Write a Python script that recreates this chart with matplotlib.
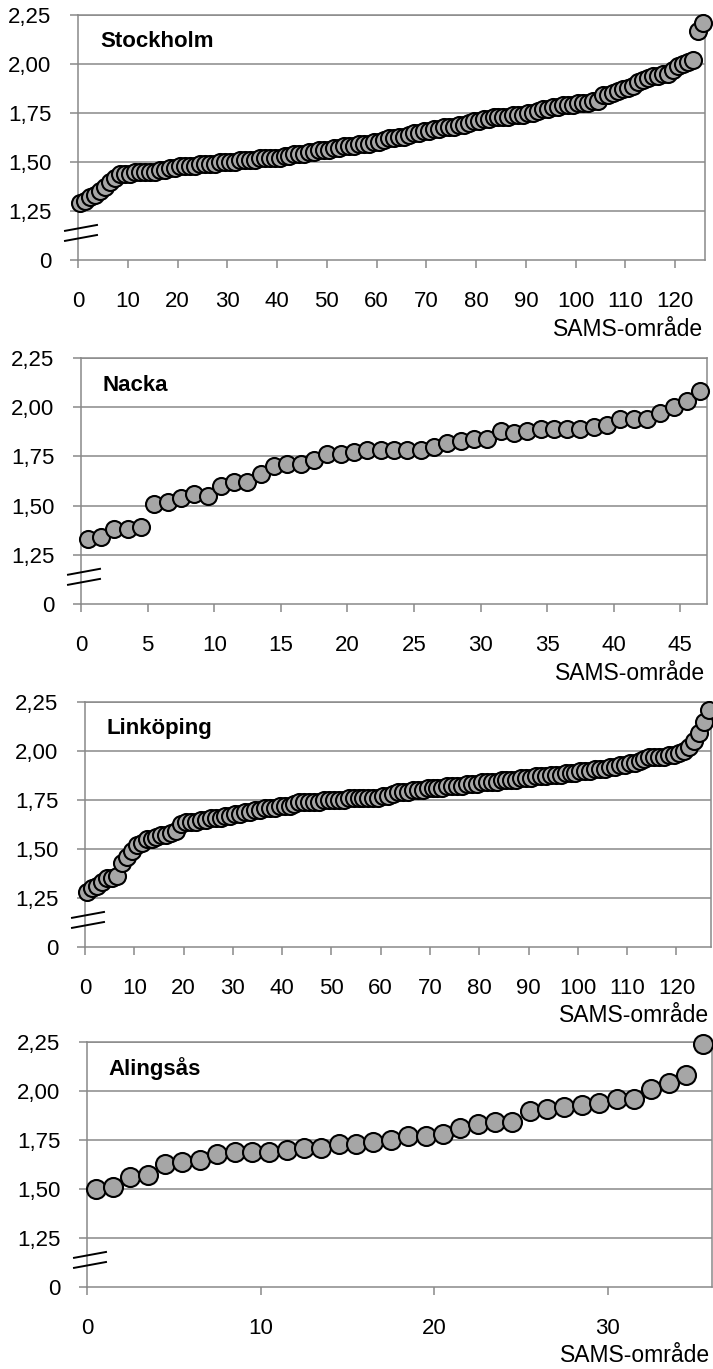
import numpy as np
import matplotlib.pyplot as plt

plt.rcParams['font.family'] = ['Liberation Sans', 'DejaVu Sans']

# sorted values per SAMS area
stockholm = [1.29, 1.30, 1.32, 1.33, 1.35, 1.37, 1.40, 1.42, 1.44, 1.44,
             1.44, 1.45, 1.45, 1.45, 1.45, 1.45, 1.46, 1.46, 1.47, 1.47,
             1.48, 1.48, 1.48, 1.48, 1.49, 1.49, 1.49, 1.49, 1.50, 1.50,
             1.50, 1.50, 1.51, 1.51, 1.51, 1.51, 1.52, 1.52, 1.52, 1.52,
             1.52, 1.53, 1.53, 1.54, 1.54, 1.54, 1.55, 1.55, 1.56, 1.56,
             1.56, 1.57, 1.57, 1.58, 1.58, 1.58, 1.59, 1.59, 1.59, 1.60,
             1.60, 1.61, 1.62, 1.62, 1.63, 1.63, 1.64, 1.65, 1.65, 1.66,
             1.66, 1.67, 1.67, 1.68, 1.68, 1.68, 1.69, 1.69, 1.70, 1.71,
             1.71, 1.72, 1.72, 1.73, 1.73, 1.73, 1.73, 1.74, 1.74, 1.74,
             1.75, 1.75, 1.76, 1.77, 1.77, 1.78, 1.78, 1.79, 1.79, 1.79,
             1.80, 1.80, 1.80, 1.81, 1.81, 1.84, 1.84, 1.85, 1.86, 1.87,
             1.88, 1.89, 1.91, 1.92, 1.93, 1.94, 1.94, 1.95, 1.95, 1.97,
             1.99, 2.00, 2.01, 2.02, 2.17, 2.21]

nacka = [1.33, 1.34, 1.38, 1.38, 1.39, 1.51, 1.52, 1.54, 1.56, 1.55,
         1.60, 1.62, 1.62, 1.66, 1.70, 1.71, 1.71, 1.73, 1.76, 1.76,
         1.77, 1.78, 1.78, 1.78, 1.78, 1.78, 1.80, 1.82, 1.83, 1.84,
         1.84, 1.88, 1.87, 1.88, 1.89, 1.89, 1.89, 1.89, 1.90, 1.91,
         1.94, 1.94, 1.94, 1.97, 2.00, 2.03, 2.08]

linkoping = [1.28, 1.30, 1.31, 1.33, 1.35, 1.35, 1.36, 1.43, 1.46, 1.49,
             1.52, 1.53, 1.55, 1.55, 1.56, 1.57, 1.57, 1.58, 1.59, 1.63,
             1.64, 1.64, 1.64, 1.65, 1.65, 1.66, 1.66, 1.66, 1.67, 1.67,
             1.68, 1.68, 1.69, 1.69, 1.70, 1.70, 1.71, 1.71, 1.71, 1.72,
             1.72, 1.72, 1.73, 1.74, 1.74, 1.74, 1.74, 1.74, 1.75, 1.75,
             1.75, 1.75, 1.75, 1.76, 1.76, 1.76, 1.76, 1.76, 1.76, 1.76,
             1.77, 1.77, 1.78, 1.79, 1.79, 1.79, 1.80, 1.80, 1.80, 1.81,
             1.81, 1.81, 1.81, 1.82, 1.82, 1.82, 1.82, 1.83, 1.83, 1.83,
             1.84, 1.84, 1.84, 1.84, 1.85, 1.85, 1.85, 1.85, 1.86, 1.86,
             1.86, 1.87, 1.87, 1.87, 1.88, 1.88, 1.88, 1.89, 1.89, 1.89,
             1.90, 1.90, 1.90, 1.91, 1.91, 1.91, 1.92, 1.92, 1.93, 1.93,
             1.94, 1.94, 1.95, 1.96, 1.97, 1.97, 1.97, 1.97, 1.98, 1.98,
             1.99, 2.00, 2.02, 2.05, 2.09, 2.15, 2.21]

alingsas = [1.50, 1.51, 1.56, 1.57, 1.63, 1.64, 1.65, 1.68, 1.69, 1.69,
            1.69, 1.70, 1.71, 1.71, 1.73, 1.73, 1.74, 1.75, 1.77, 1.77,
            1.78, 1.81, 1.83, 1.84, 1.84, 1.90, 1.91, 1.92, 1.93, 1.94,
            1.96, 1.96, 2.01, 2.04, 2.08, 2.24]

names = ['Stockholm', 'Nacka', 'Linköping', 'Alingsås']
series = [stockholm, nacka, linkoping, alingsas]
x_max = [126, 47, 127, 36]
x_step = [10, 5, 10, 10]
marker_px = [17, 17, 17, 19]

y_ticks = [0, 1.25, 1.5, 1.75, 2.0, 2.25]
y_labels = ['0', '1,25', '1,50', '1,75', '2,00', '2,25']

# plot areas in pixels: left, right, top, bottom
boxes = [(78, 705, 15, 260), (81, 707, 358, 604),
         (85, 711, 702, 947), (87, 712, 1042, 1287)]

W, H = 713, 1369
grid_col = '#898989'


def fwd(v):
    v = np.asarray(v, dtype=float)
    return np.where(v < 1.25, v / 1.25, 1 + (v - 1.25) * 4)


def inv(u):
    u = np.asarray(u, dtype=float)
    return np.where(u < 1, u * 1.25, 1.25 + (u - 1) / 4)


fig = plt.figure(figsize=(W / 100, H / 100), dpi=100)

for name, vals, xm, st, ms, (l, r, t, b) in zip(names, series, x_max, x_step, marker_px, boxes):
    ax = fig.add_axes([l / W, 1 - b / H, (r - l) / W, (b - t) / H])
    ax.set_yscale('function', functions=(fwd, inv))
    x = np.arange(len(vals)) + 0.5
    ax.plot(x, vals, 'o', ms=ms * 0.72, mfc='#A6A6A6', mec='black', mew=1.5, zorder=3, clip_on=False)
    ax.set_xlim(0, xm)
    ax.set_ylim(0, 2.25)
    ax.set_yticks(y_ticks)
    ax.set_yticklabels(y_labels)
    ax.set_xticks(np.arange(0, xm, st))
    for yv in y_ticks[1:]:
        ax.axhline(yv, color=grid_col, lw=1.1, zorder=1)
    for sp in ax.spines.values():
        sp.set_color(grid_col)
        sp.set_linewidth(1.1)
    ax.tick_params(axis='both', direction='out', color=grid_col, width=1.1, length=6,
                   labelsize=16, labelcolor='black')
    ax.tick_params(axis='x', pad=16)
    ax.tick_params(axis='y', pad=13)
    ax.text(0.035, 0.89, name, transform=ax.transAxes, fontsize=16, fontweight='bold',
            va='center', ha='left')
    # axis break marks between 0 and 1,25
    w = r - l
    for dy in (0.131, 0.090):
        ax.plot([-13 / w, 19 / w], [dy - 0.012, dy + 0.012], color='black', lw=1.4,
                transform=ax.transAxes, clip_on=False, zorder=4)
    fig.text((r - 2) / W, 1 - (b + 69) / H, 'SAMS-område', ha='right', va='center', fontsize=16.5)

fig.savefig('out.png', dpi=100)
